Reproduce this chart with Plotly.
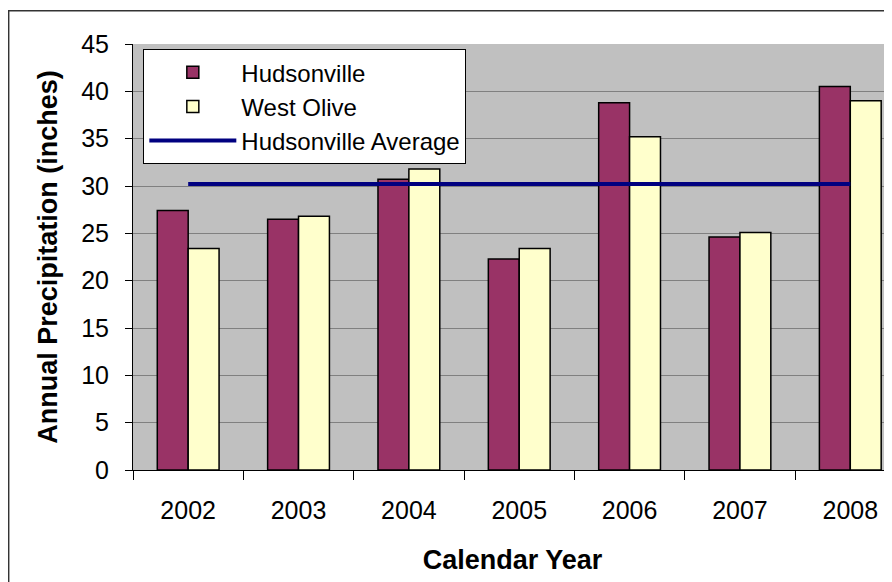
import plotly.graph_objects as go

years = ["2002", "2003", "2004", "2005", "2006", "2007", "2008"]
hudsonville = [27.4, 26.5, 30.7, 22.3, 38.8, 24.6, 40.5]
west_olive = [23.4, 26.8, 31.8, 23.4, 35.2, 25.1, 39.0]
hudsonville_avg = [30.2, 30.2, 30.2, 30.2, 30.2, 30.2, 30.2]
y_ticks = [0, 5, 10, 15, 20, 25, 30, 35, 40, 45]

FONT = "Liberation Sans, Arial, sans-serif"

fig = go.Figure()
fig.add_trace(go.Bar(
    x=years, y=hudsonville, name="Hudsonville",
    marker=dict(color="#993366", line=dict(color="black", width=1.5)),
))
fig.add_trace(go.Bar(
    x=years, y=west_olive, name="West Olive",
    marker=dict(color="#FFFFCC", line=dict(color="black", width=1.5)),
))
fig.add_trace(go.Scatter(
    x=years, y=hudsonville_avg, name="Hudsonville Average", mode="lines",
    line=dict(color="#000080", width=4),
))

fig.update_layout(
    width=884, height=574, autosize=False,
    margin=dict(l=125, r=0, t=36, b=112, pad=0),
    paper_bgcolor="white", plot_bgcolor="#C0C0C0",
    font=dict(family=FONT, color="black", size=22),
    barmode="group", bargap=0.44, bargroupgap=0,
    showlegend=True,
    legend=dict(
        x=0.0136, y=0.988, xanchor="left", yanchor="top",
        bgcolor="white", bordercolor="black", borderwidth=1,
        font=dict(family=FONT, size=24, color="black"),
        itemwidth=87, tracegroupgap=0,
    ),
    shapes=[dict(
        type="rect", xref="paper", yref="paper",
        x0=-0.1638, x1=1.2, y0=-0.5, y1=1.078,
        line=dict(color="#333333", width=1.5), fillcolor="rgba(0,0,0,0)",
        layer="below",
    )],
)

fig.update_xaxes(
    type="category", range=[-0.5, 6.378],
    showline=True, linecolor="black", linewidth=1,
    ticks="outside", ticklen=9, tickcolor="black", tickson="boundaries",
    tickfont=dict(family=FONT, size=25), showgrid=False,
    ticklabelstandoff=18,
    title=dict(text="<b>Calendar Year</b>", font=dict(family=FONT, size=27), standoff=27),
)
fig.update_yaxes(
    range=[0, 45], tickvals=y_ticks,
    showline=True, linecolor="black", linewidth=1,
    ticks="outside", ticklen=7, tickcolor="black",
    gridcolor="#808080", gridwidth=1, zeroline=False,
    tickfont=dict(family=FONT, size=25),
    ticklabelstandoff=11,
    title=dict(text="<b>Annual Precipitation (inches)</b>", font=dict(family=FONT, size=27), standoff=15),
)

fig.write_html("out.html")
